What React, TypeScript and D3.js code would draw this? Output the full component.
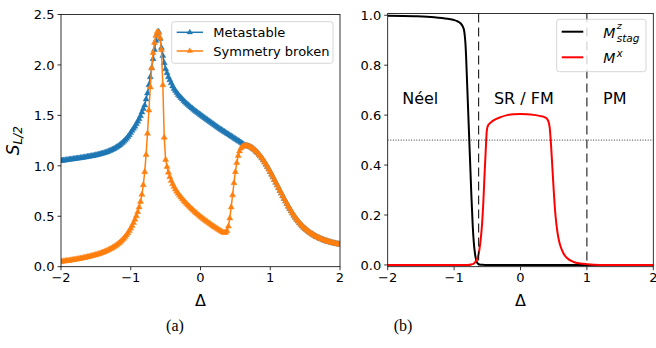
import React from 'react';
import * as d3 from 'd3';

// ---------- Panel (a): entanglement entropy ----------
const deltaGrid = d3.range(201).map((i) => (i - 100) / 50); // -2 .. 2 step 0.02

// Δ = -2.00 .. 0.62
const metastableHead = [
  1.050, 1.052, 1.054, 1.056, 1.058, 1.060, 1.062, 1.064, 1.066, 1.068,
  1.070, 1.072, 1.074, 1.076, 1.078, 1.080, 1.082, 1.085, 1.087, 1.090,
  1.092, 1.095, 1.097, 1.100, 1.103, 1.106, 1.109, 1.112, 1.116, 1.120,
  1.124, 1.128, 1.133, 1.138, 1.143, 1.149, 1.155, 1.162, 1.169, 1.177,
  1.186, 1.195, 1.205, 1.216, 1.228, 1.241, 1.255, 1.270, 1.287, 1.306,
  1.327, 1.350, 1.370, 1.390, 1.415, 1.440, 1.465, 1.495, 1.530, 1.565,
  1.600, 1.660, 1.720, 1.800, 1.880, 1.970, 2.060, 2.150, 2.240, 2.310,
  2.330, 2.260, 2.170, 2.090, 2.020, 1.960, 1.920, 1.880, 1.850, 1.820,
  1.790, 1.765, 1.745, 1.725, 1.705, 1.690, 1.675, 1.660, 1.645, 1.630,
  1.618, 1.605, 1.593, 1.581, 1.570, 1.558, 1.547, 1.536, 1.525, 1.515,
  1.505, 1.495, 1.485, 1.475, 1.465, 1.455, 1.445, 1.435, 1.425, 1.415,
  1.405, 1.395, 1.385, 1.375, 1.366, 1.357, 1.348, 1.339, 1.330, 1.321,
  1.312, 1.303, 1.294, 1.285, 1.276, 1.267, 1.258, 1.249, 1.240, 1.231,
  1.222, 1.212,
];

// Δ = -2.00 .. 0.62
const brokenHead = [
  0.050, 0.052, 0.054, 0.056, 0.058, 0.060, 0.062, 0.064, 0.066, 0.068,
  0.071, 0.073, 0.076, 0.078, 0.081, 0.084, 0.087, 0.090, 0.093, 0.096,
  0.099, 0.103, 0.106, 0.110, 0.114, 0.118, 0.122, 0.127, 0.131, 0.136,
  0.141, 0.147, 0.153, 0.159, 0.166, 0.173, 0.180, 0.188, 0.197, 0.206,
  0.216, 0.227, 0.238, 0.251, 0.265, 0.280, 0.296, 0.314, 0.334, 0.356,
  0.380, 0.406, 0.435, 0.467, 0.503, 0.543, 0.590, 0.645, 0.715, 0.810,
  0.940, 1.110, 1.320, 1.550, 1.780, 1.970, 2.120, 2.220, 2.290, 2.330,
  2.320, 2.270, 2.150, 1.800, 1.280, 1.060, 0.990, 0.935, 0.890, 0.852,
  0.820, 0.792, 0.767, 0.745, 0.725, 0.706, 0.688, 0.671, 0.655, 0.639,
  0.624, 0.610, 0.596, 0.582, 0.569, 0.556, 0.543, 0.531, 0.519, 0.507,
  0.496, 0.485, 0.474, 0.463, 0.453, 0.443, 0.433, 0.423, 0.413, 0.403,
  0.394, 0.385, 0.376, 0.367, 0.358, 0.349, 0.341, 0.336, 0.338, 0.355,
  0.400, 0.480, 0.590, 0.710, 0.830, 0.940, 1.030, 1.100, 1.145, 1.175,
  1.190, 1.197,
];

// Δ = 0.64 .. 2.00 (both curves coincide)
const sharedTail = [
  1.200, 1.199, 1.196, 1.191, 1.184, 1.176, 1.166, 1.155, 1.142, 1.128,
  1.112, 1.095, 1.077, 1.057, 1.036, 1.014, 0.990, 0.966, 0.941, 0.915,
  0.889, 0.862, 0.835, 0.808, 0.781, 0.754, 0.727, 0.700, 0.674, 0.648,
  0.623, 0.598, 0.574, 0.551, 0.529, 0.508, 0.488, 0.469, 0.451, 0.434,
  0.418, 0.403, 0.389, 0.376, 0.364, 0.353, 0.342, 0.332, 0.323, 0.314,
  0.306, 0.298, 0.291, 0.284, 0.278, 0.272, 0.266, 0.261, 0.256, 0.251,
  0.247, 0.243, 0.239, 0.235, 0.232, 0.229, 0.226, 0.223, 0.220,
];

const metastable = metastableHead.concat(sharedTail);
const symmetryBroken = brokenHead.concat(sharedTail);

const leftXTicks = [-2, -1, 0, 1, 2];
const leftYTicks = [0, 0.5, 1.0, 1.5, 2.0, 2.5];

// ---------- Panel (b): order parameters ----------
const stagDelta = [-2, -1.6, -1.3, -1.1, -1.0, -0.95, -0.9, -0.87, -0.85, -0.84, -0.83, -0.82, -0.81, -0.8, -0.79, -0.78, -0.77, -0.76, -0.75, -0.74, -0.73, -0.72, -0.71, -0.7, -0.69, -0.68, -0.67, -0.66, -0.65, -0.63, -0.6, -0.55, -0.5, 2];
const stagValues = [0.998, 0.996, 0.992, 0.986, 0.981, 0.976, 0.967, 0.955, 0.94, 0.92, 0.89, 0.84, 0.77, 0.7, 0.63, 0.56, 0.49, 0.42, 0.35, 0.28, 0.22, 0.16, 0.115, 0.08, 0.055, 0.035, 0.022, 0.013, 0.008, 0.003, 0.001, 0.0003, 0, 0];

const mxDelta = [-2, -0.8, -0.74, -0.7, -0.68, -0.66, -0.64, -0.62, -0.6, -0.58, -0.56, -0.54, -0.52, -0.51, -0.5, -0.48, -0.45, -0.4, -0.3, -0.2, -0.1, 0, 0.1, 0.2, 0.3, 0.36, 0.4, 0.42, 0.44, 0.46, 0.48, 0.5, 0.52, 0.54, 0.56, 0.58, 0.6, 0.65, 0.7, 0.8, 0.9, 1.0, 1.1, 1.3, 2];
const mxValues = [0, 0, 0.002, 0.006, 0.012, 0.02, 0.035, 0.06, 0.1, 0.16, 0.25, 0.37, 0.48, 0.53, 0.55, 0.562, 0.57, 0.58, 0.592, 0.6, 0.604, 0.605, 0.604, 0.601, 0.596, 0.592, 0.585, 0.575, 0.55, 0.48, 0.39, 0.3, 0.22, 0.165, 0.125, 0.097, 0.077, 0.045, 0.028, 0.012, 0.006, 0.003, 0.001, 0, 0];

const phaseBoundaries = [-0.63, 1.0];
const referenceLevel = 0.5;
const phaseNames = ['Néel', 'SR / FM', 'PM'];
const phaseLabelDelta = [-1.51, 0.05, 1.42];
const phaseLabelLevel = 0.645;

const rightXTicks = [-2, -1, 0, 1, 2];
const rightYTicks = [0, 0.2, 0.4, 0.6, 0.8, 1.0];

const FONT = 'DejaVu Sans, sans-serif';
const BLUE = '#1f77b4';
const ORANGE = '#ff7f0e';

const fmtTick = (v: number) => (v < 0 ? '\u2212' + Math.abs(v) : String(v));

export default function App() {
  const W = 656;
  const H = 348;

  const lx = d3.scaleLinear().domain([-2, 2]).range([61, 340]);
  const ly = d3.scaleLinear().domain([0, 2.5]).range([266.7, 14.5]);
  const rx = d3.scaleLinear().domain([-2, 2]).range([387.7, 653.3]);
  const ry = d3.scaleLinear().domain([-0.007, 1.007]).range([266.7, 13.5]);

  const leftLine = d3
    .line<number>()
    .x((_, i) => lx(deltaGrid[i]))
    .y((d) => ly(d));

  const tri = d3.symbol(d3.symbolTriangle, 16)() as string;
  const triLegend = d3.symbol(d3.symbolTriangle, 13)() as string;

  const stagLine = d3
    .line<number>()
    .x((_, i) => rx(stagDelta[i]))
    .y((d) => ry(d))
    .curve(d3.curveMonotoneX);
  const mxLine = d3
    .line<number>()
    .x((_, i) => rx(mxDelta[i]))
    .y((d) => ry(d))
    .curve(d3.curveMonotoneX);

  const series = [
    { values: metastable, color: BLUE },
    { values: symmetryBroken, color: ORANGE },
  ];

  const [lx0, lx1] = lx.range();
  const [ly0, ly1] = ly.range();
  const [rx0, rx1] = rx.range();
  const [ry0, ry1] = ry.range();

  return (
    <svg
      width={W}
      height={H}
      viewBox={`0 0 ${W} ${H}`}
      style={{ position: 'absolute', left: 0, top: 0, background: '#fff' }}
      fontFamily={FONT}
    >
      <defs>
        <clipPath id="clipL">
          <rect x={lx0} y={ly1} width={lx1 - lx0} height={ly0 - ly1} />
        </clipPath>
        <clipPath id="clipR">
          <rect x={rx0} y={ry1} width={rx1 - rx0} height={ry0 - ry1} />
        </clipPath>
      </defs>
      <rect x={0} y={0} width={W} height={H} fill="#fff" />

      {/* ---------- Left panel ---------- */}
      <g clipPath="url(#clipL)">
        {series.map((s, k) => (
          <g key={k}>
            <path d={leftLine(s.values) as string} fill="none" stroke={s.color} strokeWidth={1.5} />
            {s.values.map((v, i) => (
              <path
                key={i}
                d={tri}
                transform={`translate(${lx(deltaGrid[i])},${ly(v)})`}
                fill={s.color}
                stroke={s.color}
                strokeWidth={0.4}
              />
            ))}
          </g>
        ))}
      </g>
      <rect x={lx0} y={ly1} width={lx1 - lx0} height={ly0 - ly1} fill="none" stroke="#000" strokeWidth={0.8} />
      {leftXTicks.map((t) => (
        <g key={'lx' + t}>
          <line x1={lx(t)} x2={lx(t)} y1={ly0} y2={ly0 + 3.5} stroke="#000" strokeWidth={0.8} />
          <text x={lx(t)} y={282} fontSize={13} textAnchor="middle">{fmtTick(t)}</text>
        </g>
      ))}
      {leftYTicks.map((t) => (
        <g key={'ly' + t}>
          <line x1={lx0 - 3.5} x2={lx0} y1={ly(t)} y2={ly(t)} stroke="#000" strokeWidth={0.8} />
          <text x={lx0 - 6.5} y={ly(t)} dy="0.36em" fontSize={13} textAnchor="end">{t.toFixed(1)}</text>
        </g>
      ))}
      <text x={(lx0 + lx1) / 2} y={306} fontSize={16} textAnchor="middle">Δ</text>
      <text transform={`translate(19,${(ly0 + ly1) / 2}) rotate(-90)`} textAnchor="middle" fontSize={17} fontStyle="italic">
        S<tspan fontSize={12} dy={3}>L/2</tspan>
      </text>

      {/* left legend */}
      <rect x={171.7} y={21.7} width={161.3} height={41.6} rx={2.5} fill="#fff" fillOpacity={0.8} stroke="#ccc" strokeWidth={0.8} />
      {[
        { label: 'Metastable', color: BLUE, y: 32.3 },
        { label: 'Symmetry broken', color: ORANGE, y: 51 },
      ].map((e) => (
        <g key={e.label}>
          <line x1={176.7} x2={203} y1={e.y} y2={e.y} stroke={e.color} strokeWidth={1.5} />
          <path d={triLegend} transform={`translate(189.8,${e.y})`} fill={e.color} stroke={e.color} strokeWidth={0.4} />
          <text x={213.3} y={e.y + 4.8} fontSize={13}>{e.label}</text>
        </g>
      ))}

      {/* ---------- Right panel ---------- */}
      <g clipPath="url(#clipR)">
        <path d={stagLine(stagValues) as string} fill="none" stroke="#000" strokeWidth={2} />
        <path d={mxLine(mxValues) as string} fill="none" stroke="#ff0000" strokeWidth={2} />
        {phaseBoundaries.map((b) => (
          <line key={b} x1={rx(b)} x2={rx(b)} y1={ry1} y2={ry0} stroke="#000" strokeWidth={1} strokeDasharray="9,5" />
        ))}
        <line x1={rx0} x2={rx1} y1={ry(referenceLevel)} y2={ry(referenceLevel)} stroke="#000" strokeWidth={0.8} strokeDasharray="1,1.6" />
      </g>
      {phaseNames.map((n, i) => (
        <text key={n} x={rx(phaseLabelDelta[i])} y={ry(phaseLabelLevel)} fontSize={16} textAnchor="middle">{n}</text>
      ))}
      <rect x={rx0} y={ry1} width={rx1 - rx0} height={ry0 - ry1} fill="none" stroke="#000" strokeWidth={0.8} />
      {rightXTicks.map((t) => (
        <g key={'rx' + t}>
          <line x1={rx(t)} x2={rx(t)} y1={ry0} y2={ry0 + 3.5} stroke="#000" strokeWidth={0.8} />
          <text x={rx(t)} y={282} fontSize={13} textAnchor="middle">{fmtTick(t)}</text>
        </g>
      ))}
      {rightYTicks.map((t) => (
        <g key={'ry' + t}>
          <line x1={rx0 - 3.5} x2={rx0} y1={ry(t)} y2={ry(t)} stroke="#000" strokeWidth={0.8} />
          <text x={rx0 - 6.5} y={ry(t)} dy="0.36em" fontSize={13} textAnchor="end">{t.toFixed(1)}</text>
        </g>
      ))}
      <text x={(rx0 + rx1) / 2} y={306} fontSize={16} textAnchor="middle">Δ</text>

      {/* right legend */}
      <rect x={556.7} y={19.3} width={89.3} height={52.4} rx={2.5} fill="#fff" fillOpacity={0.8} stroke="#ccc" strokeWidth={0.8} />
      <line x1={561.7} x2={583.3} y1={31.7} y2={31.7} stroke="#000" strokeWidth={2} />
      <text x={603.3} y={37.8} fontSize={14} fontStyle="italic">M</text>
      <text x={616.7} y={29.3} fontSize={9.5} fontStyle="italic">z</text>
      <text x={616.7} y={41.5} fontSize={10.5} fontStyle="italic">stag</text>
      <line x1={561.7} x2={583.3} y1={57.3} y2={57.3} stroke="#ff0000" strokeWidth={2} />
      <text x={603.3} y={63.3} fontSize={14} fontStyle="italic">M</text>
      <text x={616.7} y={57} fontSize={10} fontStyle="italic">x</text>

      {/* captions */}
      <text x={175} y={331} fontSize={16} textAnchor="middle" fontFamily="Liberation Serif, Times New Roman, serif">(a)</text>
      <text x={403} y={331} fontSize={16} textAnchor="middle" fontFamily="Liberation Serif, Times New Roman, serif">(b)</text>
    </svg>
  );
}
